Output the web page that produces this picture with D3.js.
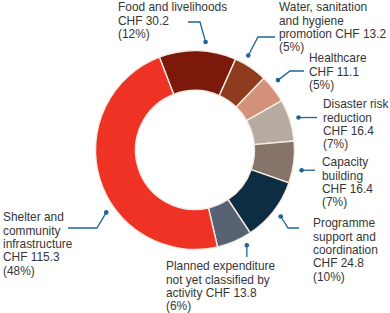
<!DOCTYPE html>
<html>
<head>
<meta charset="utf-8">
<script src="https://cdn.jsdelivr.net/npm/d3@7"></script>
<style>
    html, body { margin: 0; padding: 0; background: #fff; }
    svg { display: block; }
    text { font-family: "Liberation Sans", Arial, sans-serif; font-size: 11.9px; fill: #363636; }
</style>
</head>
<body>
<div id="chart"></div>
<script>
// categories in drawing order (clockwise from the top)
var categories = [
    "Food and livelihoods",
    "Water, sanitation and hygiene promotion",
    "Healthcare",
    "Disaster risk reduction",
    "Capacity building",
    "Programme support and coordination",
    "Planned expenditure not yet classified by activity",
    "Shelter and community infrastructure"
];
// CHF millions
var values = [30.2, 13.2, 11.1, 16.4, 16.4, 24.8, 13.8, 115.3];
var percents = [12, 5, 5, 7, 7, 10, 6, 48];
// label text, broken into lines as printed
var labelLines = [
    ["Food and livelihoods", "CHF 30.2", "(12%)"],
    ["Water, sanitation", "and hygiene", "promotion CHF 13.2", "(5%)"],
    ["Healthcare", "CHF 11.1", "(5%)"],
    ["Disaster risk", "reduction", "CHF 16.4", "(7%)"],
    ["Capacity", "building", "CHF 16.4", "(7%)"],
    ["Programme", "support and", "coordination", "CHF 24.8", "(10%)"],
    ["Planned expenditure", "not yet classified by", "activity CHF 13.8", "(6%)"],
    ["Shelter and", "community", "infrastructure", "CHF 115.3", "(48%)"]
];

var colors = ["#7b1a0b", "#8e3b1f", "#d4917a", "#b6aaa1", "#867369", "#0d2e42", "#576272", "#ee3325"];

var width = 390,
    height = 313;
var cx = 195, cy = 150;
var outerR = 99.5, innerR = 59.5, dotR = 108.5;

// where each label sits and how its leader bends (t = where along the slice the dot goes)
var labelLayout = [
    { x: 118, y: 7,   t: 0.59, elbow: [200, 22],  end: [188, 22] },
    { x: 279, y: 7,   t: 0.27, elbow: [258, 37],  end: [275, 37] },
    { x: 309, y: 58,  t: 0.37, elbow: [290, 71],  end: [304, 71] },
    { x: 323, y: 104, t: 0.5,  elbow: null,       end: [317, null] },
    { x: 322, y: 162, t: 0.65, elbow: null,       end: [315, null] },
    { x: 313, y: 223, t: 0.5,  elbow: [288, 228], end: [299, 228] },
    { x: 166, y: 266, t: 0.25, elbow: null,       end: [null, 257] },
    { x: 3,   y: 217, t: 0.395, elbow: [97, 228], end: [68, 228] }
];

var data = categories.map(function(c, i) {
    return { name: c, value: values[i], pct: percents[i], lines: labelLines[i], layout: labelLayout[i] };
});

var svg = d3.select("#chart").append("svg")
    .attr("width", width)
    .attr("height", height);

var startA = -21 * Math.PI / 180;
var pie = d3.pie()
    .sort(null)
    .value(function(d) { return d.value; })
    .startAngle(startA)
    .endAngle(startA + 2 * Math.PI);

var arc = d3.arc()
    .innerRadius(innerR)
    .outerRadius(outerR);

var arcs = pie(data);

var g = svg.append("g").attr("transform", "translate(" + cx + "," + cy + ")");

g.selectAll("path.slice")
    .data(arcs)
    .join("path")
    .attr("class", "slice")
    .attr("d", arc)
    .attr("fill", function(d, i) { return colors[i]; })
    .attr("stroke", "#f4ece4")
    .attr("stroke-width", 1.4);

// leaders
var blue = "#1f6494";
arcs.forEach(function(d, i) {
    var L = d.data.layout;
    var a = d.startAngle + L.t * (d.endAngle - d.startAngle);
    var px = cx + dotR * Math.sin(a),
        py = cy - dotR * Math.cos(a);
    var pts = [[px, py]];
    if (L.elbow) pts.push(L.elbow);
    var ex = L.end[0] === null ? px : L.end[0];
    var ey = L.end[1] === null ? py : L.end[1];
    pts.push([ex, ey]);

    svg.append("path")
        .attr("d", d3.line()(pts))
        .attr("fill", "none")
        .attr("stroke", blue)
        .attr("stroke-width", 1.3);
    svg.append("circle")
        .attr("cx", px)
        .attr("cy", py)
        .attr("r", 2.3)
        .attr("fill", blue);
});

// labels
var lineH = 13.4;
var labels = svg.selectAll("text.label")
    .data(data)
    .join("text")
    .attr("class", "label")
    .attr("x", function(d) { return d.layout.x; })
    .attr("y", function(d) { return d.layout.y; });

labels.selectAll("tspan")
    .data(function(d) { return d.lines.map(function(l) { return { text: l, x: d.layout.x, y: d.layout.y }; }); })
    .join("tspan")
    .attr("x", function(d) { return d.x; })
    .attr("y", function(d, i) { return d.y + i * lineH; })
    .attr("dy", "0.35em")
    .text(function(d) { return d.text; });
</script>
</body>
</html>
